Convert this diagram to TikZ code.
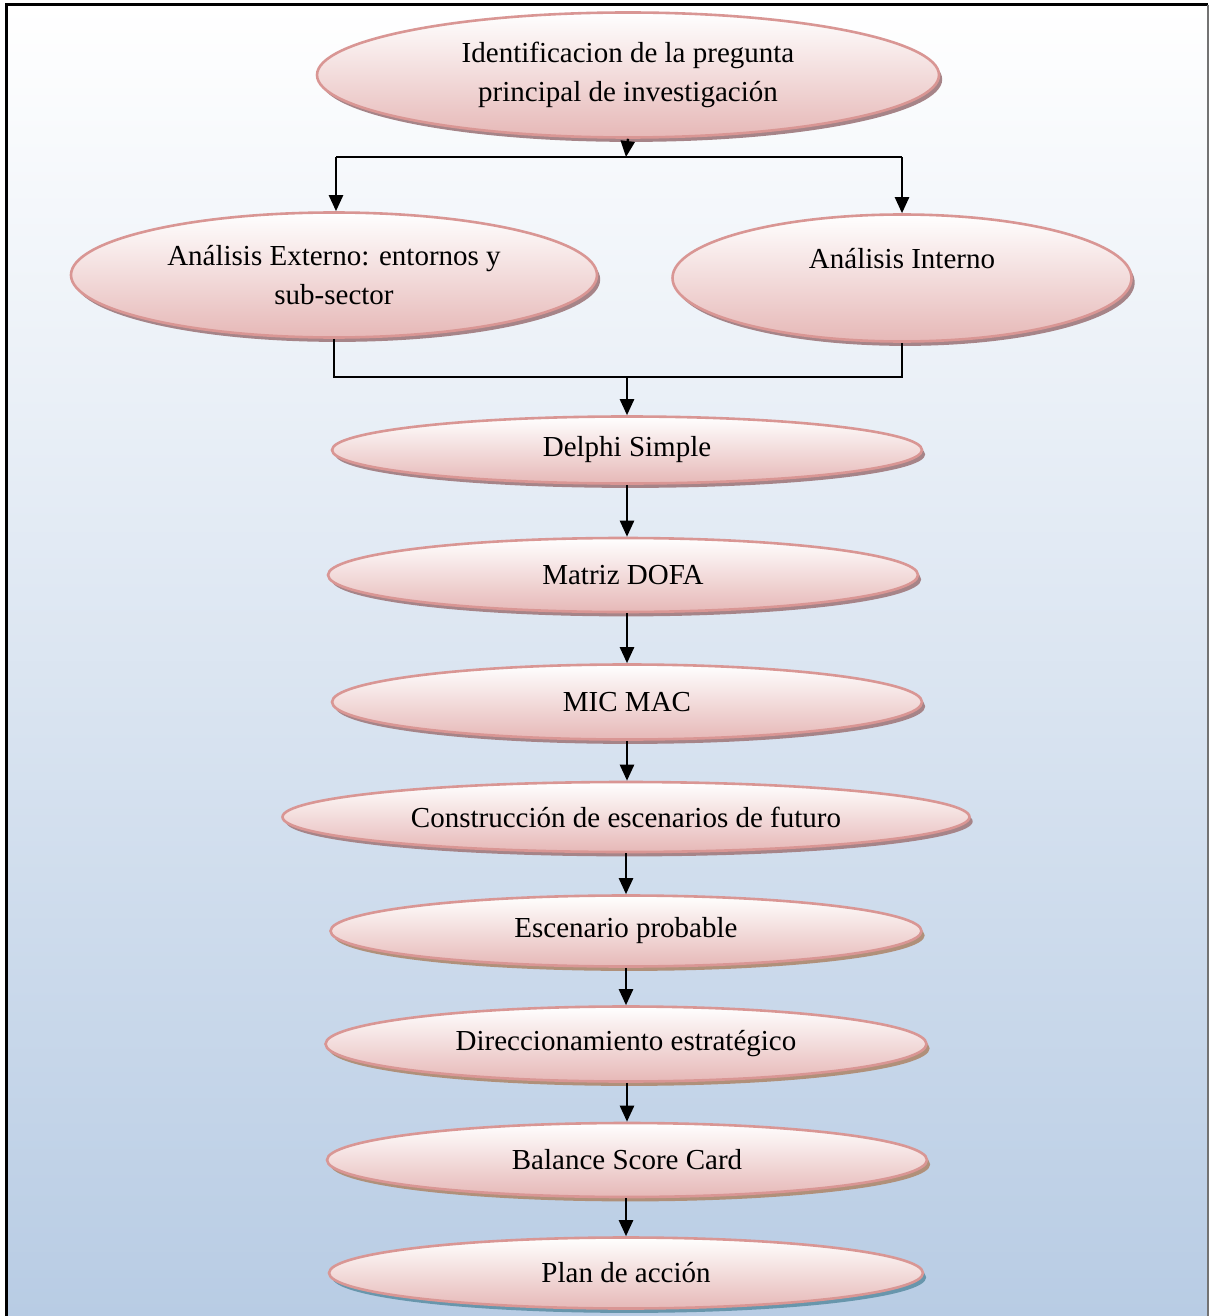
\documentclass[tikz,border=0pt]{standalone}
\usepackage{fontspec}
\setmainfont{Liberation Serif}
\usetikzlibrary{shapes.geometric,arrows.meta,shadows}

\definecolor{bgbottom}{RGB}{184,204,228}
\definecolor{rim}{RGB}{217,150,148}
\definecolor{pinkfill}{RGB}{230,184,183}
\definecolor{shmauve}{RGB}{166,132,136}
\definecolor{shbrown}{RGB}{176,144,122}
\definecolor{shteal}{RGB}{104,150,172}

\tikzset{
  stage/.style={ellipse, draw=rim, line width=1.3pt, inner sep=0pt,
    top color=white, bottom color=pinkfill, align=center,
    font=\fontsize{14.5pt}{19.5pt}\selectfont,
    drop shadow={shadow xshift=1.6pt, shadow yshift=-2.2pt, fill=#1, opacity=1}},
  stage/.default=shmauve,
  link/.style={line width=1.2pt, draw=black},
  arr/.style={link, -{Triangle[length=8pt, width=7pt]}}
}

\begin{document}
\begin{tikzpicture}[x=0.5pt, y=-0.5pt]
\useasboundingbox (0,0) rectangle (1210,1316);

% page background and frame
\fill[top color=white, bottom color=bgbottom] (6,5) rectangle (1208,1316);
\draw[black, line width=1.5pt] (6,1316) -- (6,5) -- (1208,5);
\draw[black!55, line width=0.8pt] (1208,5) -- (1208,1316);

% stages (sizes in pt, half of the drawing units)
\node[stage, minimum width=311pt, minimum height=62.5pt] (q) at (628,75)
  {Identificacion de la pregunta\\principal de investigación};
\node[stage, minimum width=263pt, minimum height=62.5pt] (ext) at (334,275)
  {Análisis Externo: entornos y\\sub-sector};
\node[stage, minimum width=229.5pt, minimum height=63.5pt] (int) at (902,278)
  {Análisis Interno\\\mbox{}};
\node[stage, minimum width=295pt, minimum height=33.5pt] (delphi) at (627,450) {Delphi Simple};
\node[stage, minimum width=295pt, minimum height=37pt] (dofa) at (623,575) {Matriz DOFA};
\node[stage, minimum width=295pt, minimum height=37.5pt] (mic) at (627,702) {MIC MAC};
\node[stage, minimum width=343.5pt, minimum height=35pt] (cons) at (626,817) {Construcción de escenarios de futuro};
\node[stage=shbrown, minimum width=295.5pt, minimum height=35.5pt] (esc) at (626,931) {Escenario probable};
\node[stage=shbrown, minimum width=300.5pt, minimum height=37.5pt] (dir) at (626,1044) {Direccionamiento estratégico};
\node[stage=shbrown, minimum width=300pt, minimum height=37pt] (bsc) at (627,1160) {Balance Score Card};
\node[stage=shteal, minimum width=297pt, minimum height=35.5pt] (plan) at (626,1273) {Plan de acción};

% split below the question
\coordinate (js) at (626,157);
\coordinate (cl) at (336,157);
\coordinate (cr) at (902,157);
\draw[arr] (q.south) -- (js);
\draw[link] (cl) -- (cr);
\draw[arr] (cl) -- (cl |- ext.north);
\draw[arr] (cr) -- (cr |- int.north);

% merge of the two analyses
\coordinate (jm) at (627,377);
\draw[link] (ext.south) -- (ext.south |- jm) -- (int.south |- jm) -- (int.south);
\draw[arr] (jm) -- (delphi.north);

% sequential chain
\draw[arr] (delphi.south) -- (delphi.south |- dofa.north);
\draw[arr] (dofa.south -| mic.north) -- (mic.north);
\draw[arr] (mic.south) -- (cons.north -| mic.south);
\draw[arr] (cons.south -| esc.north) -- (esc.north);
\draw[arr] (esc.south -| dir.north) -- (dir.north);
\draw[arr] (dir.south -| bsc.north) -- (bsc.north);
\draw[arr] (bsc.south -| plan.north) -- (plan.north);
\end{tikzpicture}
\end{document}
